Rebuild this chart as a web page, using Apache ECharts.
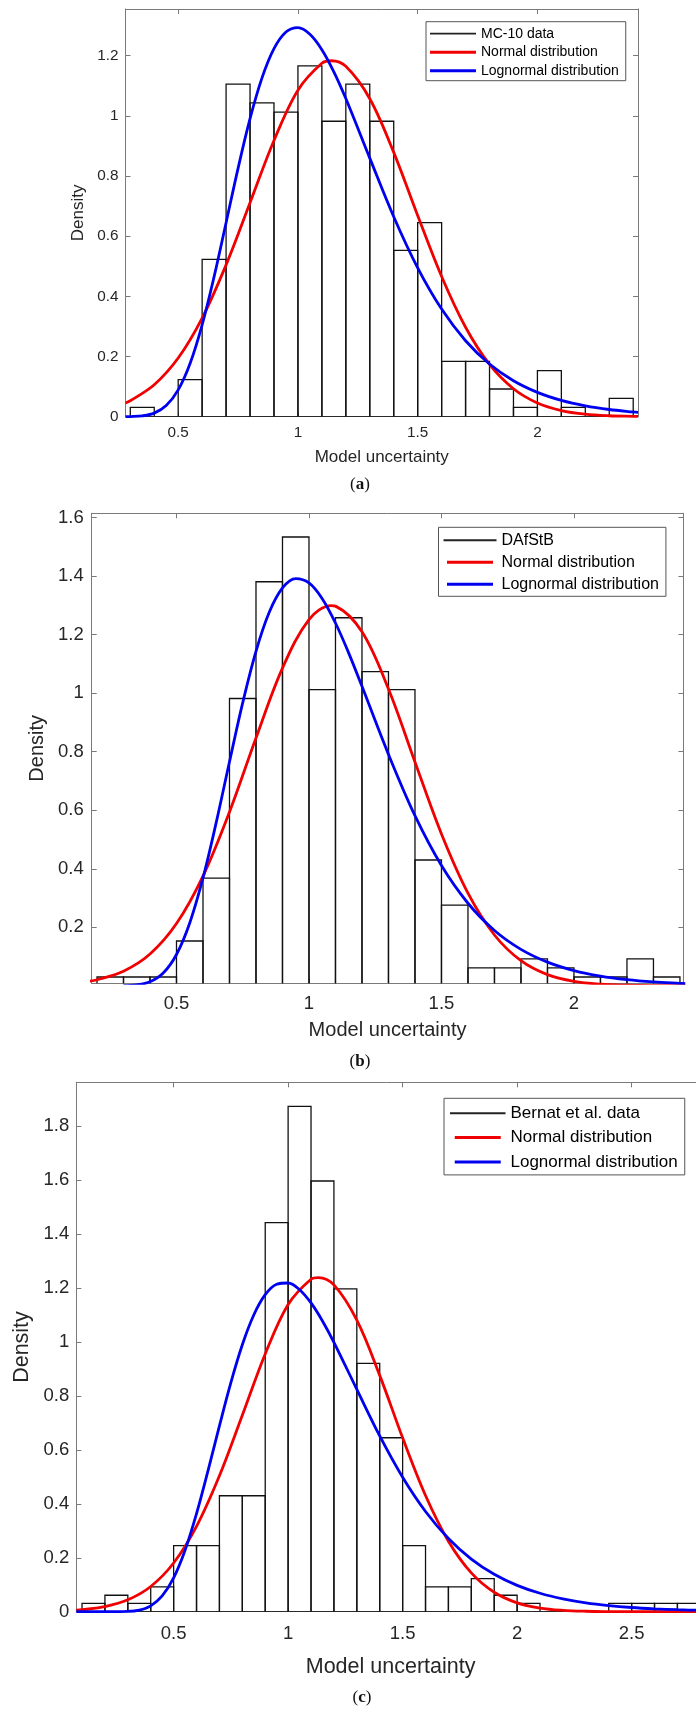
<!DOCTYPE html>
<html><head><meta charset="utf-8">
<script src="https://cdn.jsdelivr.net/npm/echarts@6/dist/echarts.min.js"></script>
<style>html,body{margin:0;padding:0;background:#fff}#c{width:696px;height:1711px}</style>
</head><body><div id="c"></div>
<script>
// ---------- DATA ----------
// Panel (a) MC-10 data histogram (bin lower edges, bin width 0.1) and density values
const binsA = [0.3,0.4,0.5,0.6,0.7,0.8,0.9,1.0,1.1,1.2,1.3,1.4,1.5,1.6,1.7,1.8,1.9,2.0,2.1,2.2,2.3];
const densA = [0.031,0,0.123,0.523,1.105,1.043,1.012,1.166,0.982,1.105,0.982,0.553,0.645,0.184,0.184,0.092,0.031,0.153,0.031,0,0.061];
const normXA = [0.28,0.3,0.4,0.5,0.6,0.7,0.8,0.9,1.0,1.1,1.14,1.2,1.3,1.4,1.5,1.6,1.7,1.8,1.9,2.0,2.1,2.2,2.3,2.4,2.42];
const normYA = [0.0456,0.0530,0.1062,0.1949,0.3277,0.5045,0.7112,0.9180,1.0852,1.1747,1.1830,1.1644,1.0569,0.8785,0.6686,0.4660,0.2974,0.1738,0.0930,0.0456,0.0205,0.0084,0.0032,0.0011,0.0009];
const lognXA = [0.28,0.3,0.35,0.4,0.45,0.5,0.55,0.6,0.65,0.7,0.75,0.8,0.85,0.9,0.95,1.0,1.05,1.1,1.15,1.2,1.3,1.4,1.5,1.6,1.7,1.8,1.9,2.0,2.1,2.2,2.3,2.4,2.42];
const lognYA = [0.0001,0.0004,0.0027,0.0118,0.0369,0.0891,0.1778,0.3054,0.4656,0.6447,0.8254,0.9905,1.1260,1.2232,1.2785,1.2930,1.2713,1.2199,1.1462,1.0573,0.8593,0.6647,0.4948,0.3576,0.2525,0.1750,0.1196,0.0809,0.0542,0.0361,0.0239,0.0158,0.0145];
const xTicksA = [0.5,1,1.5,2];
const yTicksA = [0,0.2,0.4,0.6,0.8,1,1.2];

// Panel (b) DAfStB
const binsB = [0.2,0.3,0.4,0.5,0.6,0.7,0.8,0.9,1.0,1.1,1.2,1.3,1.4,1.5,1.6,1.7,1.8,1.9,2.0,2.1,2.2,2.3];
const densB = [0.030,0.030,0.030,0.153,0.368,0.982,1.381,1.534,1.012,1.258,1.074,1.012,0.430,0.276,0.061,0.061,0.092,0.061,0.030,0.030,0.092,0.030];
const normXB = [0.17,0.2,0.3,0.4,0.5,0.6,0.7,0.8,0.9,1.0,1.084,1.1,1.2,1.3,1.4,1.5,1.6,1.7,1.8,1.9,2.0,2.1,2.2,2.3,2.42];
const normYB = [0.0155,0.0206,0.0498,0.1086,0.2128,0.3750,0.5943,0.8471,1.0858,1.2518,1.2995,1.2977,1.2100,1.0146,0.7651,0.5188,0.3165,0.1736,0.0857,0.0380,0.0152,0.0054,0.0018,0.0005,0.0001];
const lognXB = [0.3,0.35,0.4,0.45,0.5,0.55,0.6,0.65,0.7,0.75,0.8,0.85,0.9,0.95,1.0,1.05,1.1,1.15,1.2,1.3,1.4,1.5,1.6,1.7,1.8,1.9,2.0,2.1,2.2,2.3,2.4,2.42];
const lognYB = [0.0004,0.0030,0.0136,0.0435,0.1069,0.2147,0.3685,0.5586,0.7659,0.9677,1.1431,1.2765,1.3598,1.3918,1.3769,1.3232,1.2400,1.1372,1.0235,0.7910,0.5813,0.4110,0.2821,0.1891,0.1245,0.0809,0.0520,0.0331,0.0210,0.0132,0.0083,0.0075];
const xTicksB = [0.5,1,1.5,2];
const yTicksB = [0.2,0.4,0.6,0.8,1,1.2,1.4,1.6];

// Panel (c) Bernat et al. data
const binsC = [0.1,0.2,0.3,0.4,0.5,0.6,0.7,0.8,0.9,1.0,1.1,1.2,1.3,1.4,1.5,1.6,1.7,1.8,1.9,2.0,2.1,2.2,2.3,2.4,2.5,2.6,2.7];
const densC = [0.031,0.061,0.031,0.092,0.245,0.245,0.430,0.430,1.443,1.874,1.597,1.197,0.921,0.645,0.245,0.092,0.092,0.123,0.061,0.031,0,0,0,0.031,0.031,0.031,0.031];
const normXC = [0.075,0.1,0.2,0.3,0.4,0.5,0.6,0.7,0.8,0.9,1.0,1.1,1.132,1.2,1.3,1.4,1.5,1.6,1.7,1.8,1.9,2.0,2.1,2.2,2.3,2.4,2.5,2.6,2.83];
const normYC = [0.0057,0.0073,0.0188,0.0440,0.0935,0.1806,0.3165,0.5038,0.7282,0.9557,1.1391,1.2329,1.2390,1.2117,1.0813,0.8763,0.6448,0.4309,0.2615,0.1441,0.0721,0.0328,0.0135,0.0051,0.0017,0.0005,0.0001,0,0];
const lognXC = [0.075,0.2,0.3,0.35,0.4,0.45,0.5,0.55,0.6,0.65,0.7,0.75,0.8,0.85,0.9,0.95,1.0,1.05,1.1,1.15,1.2,1.3,1.4,1.5,1.6,1.7,1.8,1.9,2.0,2.1,2.2,2.3,2.4,2.5,2.6,2.7,2.8,2.83];
const lognYC = [0,0,0.0011,0.0060,0.0218,0.0584,0.1256,0.2282,0.3635,0.5220,0.6891,0.8496,0.9900,1.1003,1.1754,1.2142,1.2189,1.1939,1.1449,1.0780,0.9989,0.8243,0.6517,0.4985,0.3716,0.2715,0.1953,0.1388,0.0977,0.0683,0.0475,0.0328,0.0227,0.0156,0.0108,0.0074,0.0051,0.0046];
const xTicksC = [0.5,1,1.5,2,2.5];
const yTicksC = [0,0.2,0.4,0.6,0.8,1,1.2,1.4,1.6,1.8];

const binWidth = 0.1;
const dataNames = ['MC-10 data','DAfStB','Bernat et al. data'];
const normalName = 'Normal distribution';
const lognormalName = 'Lognormal distribution';
const captions = ['a','b','c'];
const xTitle = 'Model uncertainty';
const yTitle = 'Density';

// ---------- STYLE / LAYOUT ----------
const FONT = "'Liberation Sans', Arial, Helvetica, sans-serif";
const SERIF = "'Liberation Serif', 'DejaVu Serif', 'Times New Roman', serif";
const AX = '#7a7a7a', TXT = '#262626', RED = '#f00000', BLUE = '#0000f0';

const panels = [
  {bins:binsA, dens:densA, nx:normXA, ny:normYA, lx:lognXA, ly:lognYA, xt:xTicksA, yt:yTicksA, name:dataNames[0],
   grid:{left:125.5, top:9, width:512.5, height:407.7}, xr:[0.28,2.42], yr:[0,1.355],
   tick:15.3, title:17, xGap:32, yGap:30, xMargin:9, yMargin:7,
   leg:{left:426, top:21.7, fs:14, lh:16, w:46, gap:2.5, pad:[4,7,2,4]}, cap:{x:360, y:485}},
  {bins:binsB, dens:densB, nx:normXB, ny:normYB, lx:lognXB, ly:lognYB, xt:xTicksB, yt:yTicksB, name:dataNames[1],
   grid:{left:91.7, top:513.3, width:591.7, height:470}, xr:[0.18,2.413], yr:[0.0085,1.615],
   tick:18.5, title:20, xGap:37, yGap:34, xMargin:11, yMargin:8,
   leg:{left:438.5, top:527.3, fs:16, lh:18, w:53, gap:4, pad:[4,7,3,5]}, cap:{x:360, y:1061.7}},
  {bins:binsC, dens:densC, nx:normXC, ny:normYC, lx:lognXC, ly:lognYC, xt:xTicksC, yt:yTicksC, name:dataNames[2],
   grid:{left:76.3, top:1082.3, width:628.6, height:529.4}, xr:[0.075,2.82], yr:[0,1.963],
   tick:18.5, title:21.5, xGap:44, yGap:36, xMargin:13, yMargin:7,
   leg:{left:444, top:1098.3, fs:17, lh:20, w:55.5, gap:4.3, pad:[5,7,3,6]}, cap:{x:362, y:1698}}
];

const option = {animation:false, backgroundColor:'#fff', grid:[], xAxis:[], yAxis:[], series:[], legend:[], graphic:[]};

function zip(xs, ys){ return xs.map((x,i)=>[x, ys[i]]); }

panels.forEach((p, k) => {
  option.grid.push(Object.assign({show:false, outerBoundsMode:'none', containLabel:false}, p.grid));
  const axLine = {show:true, onZero:false, lineStyle:{color:AX, width:1}};
  const tickStyle = {color:AX, width:1};
  option.xAxis.push({gridIndex:k, type:'value', min:p.xr[0], max:p.xr[1], position:'bottom',
    axisLine:axLine, splitLine:{show:false},
    axisTick:{show:true, inside:true, length:5, customValues:p.xt, lineStyle:tickStyle},
    axisLabel:{show:true, customValues:p.xt, fontSize:p.tick, fontFamily:FONT, color:TXT, margin:p.xMargin},
    name:xTitle, nameLocation:'middle', nameGap:p.xGap,
    nameTextStyle:{fontSize:p.title, fontFamily:FONT, color:TXT}});
  option.xAxis.push({gridIndex:k, type:'value', min:p.xr[0], max:p.xr[1], position:'top',
    axisLine:axLine, splitLine:{show:false},
    axisTick:{show:true, inside:true, length:5, customValues:p.xt, lineStyle:tickStyle},
    axisLabel:{show:false}});
  option.yAxis.push({gridIndex:k, type:'value', min:p.yr[0], max:p.yr[1], position:'left',
    axisLine:axLine, splitLine:{show:false},
    axisTick:{show:true, inside:true, length:5, customValues:p.yt, lineStyle:tickStyle},
    axisLabel:{show:true, customValues:p.yt, fontSize:p.tick, fontFamily:FONT, color:TXT, margin:p.yMargin},
    name:yTitle, nameLocation:'middle', nameGap:p.yGap,
    nameTextStyle:{fontSize:p.title, fontFamily:FONT, color:TXT}});
  option.yAxis.push({gridIndex:k, type:'value', min:p.yr[0], max:p.yr[1], position:'right',
    axisLine:axLine, splitLine:{show:false},
    axisTick:{show:true, inside:true, length:5, customValues:p.yt, lineStyle:tickStyle},
    axisLabel:{show:false}});

  option.series.push({type:'custom', name:p.name, xAxisIndex:2*k, yAxisIndex:2*k, clip:true,
    itemStyle:{color:'#000'},
    encode:{x:[0,1], y:2},
    data:p.bins.map((b,i)=>[b, b+binWidth, p.dens[i]]),
    renderItem:function(params, api){
      const a = api.coord([api.value(0), api.value(2)]);
      const b = api.coord([api.value(1), 0]);
      return {type:'rect', shape:{x:a[0], y:a[1], width:b[0]-a[0], height:b[1]-a[1]},
        style:{fill:'none', stroke:'#111', lineWidth:1.3}};
    }, z:2});
  option.series.push({type:'line', name:normalName, xAxisIndex:2*k, yAxisIndex:2*k, clip:true,
    symbol:'none', smooth:0.35, data:zip(p.nx, p.ny), color:RED,
    lineStyle:{color:RED, width:2.8}, z:3});
  option.series.push({type:'line', name:lognormalName, xAxisIndex:2*k, yAxisIndex:2*k, clip:true,
    symbol:'none', smooth:0.35, data:zip(p.lx, p.ly), color:BLUE,
    lineStyle:{color:BLUE, width:2.8}, z:4});

  const L = p.leg;
  const thin = 'path://M0,0H46V1.7H0Z';
  const thick = 'path://M0,0H46V3H0Z';
  option.legend.push({orient:'vertical', left:L.left, top:L.top, itemWidth:L.w, itemHeight:3, itemGap:L.gap,
    padding:L.pad, backgroundColor:'#fff', borderColor:'#555', borderWidth:1, borderRadius:0,
    selectedMode:false, symbolKeepAspect:true,
    textStyle:{fontFamily:FONT, fontSize:L.fs, color:'#000', lineHeight:L.lh},
    data:[{name:p.name, icon:thin, itemStyle:{color:'#222', borderWidth:0}},
          {name:normalName, icon:thick, itemStyle:{color:RED, borderWidth:0}},
          {name:lognormalName, icon:thick, itemStyle:{color:BLUE, borderWidth:0}}]});

  option.graphic.push({type:'text', x:p.cap.x, y:p.cap.y, z:10,
    style:{text:'{n|(}{b|' + captions[k] + '}{n|)}', align:'center', verticalAlign:'middle',
      rich:{n:{fontFamily:SERIF, fontSize:17, fill:'#111'}, b:{fontFamily:SERIF, fontSize:17, fontWeight:'bold', fill:'#111'}}}});
});

const chart = echarts.init(document.getElementById('c'), null, {renderer:'canvas', width:696, height:1711});
chart.setOption(option);
</script></body></html>
